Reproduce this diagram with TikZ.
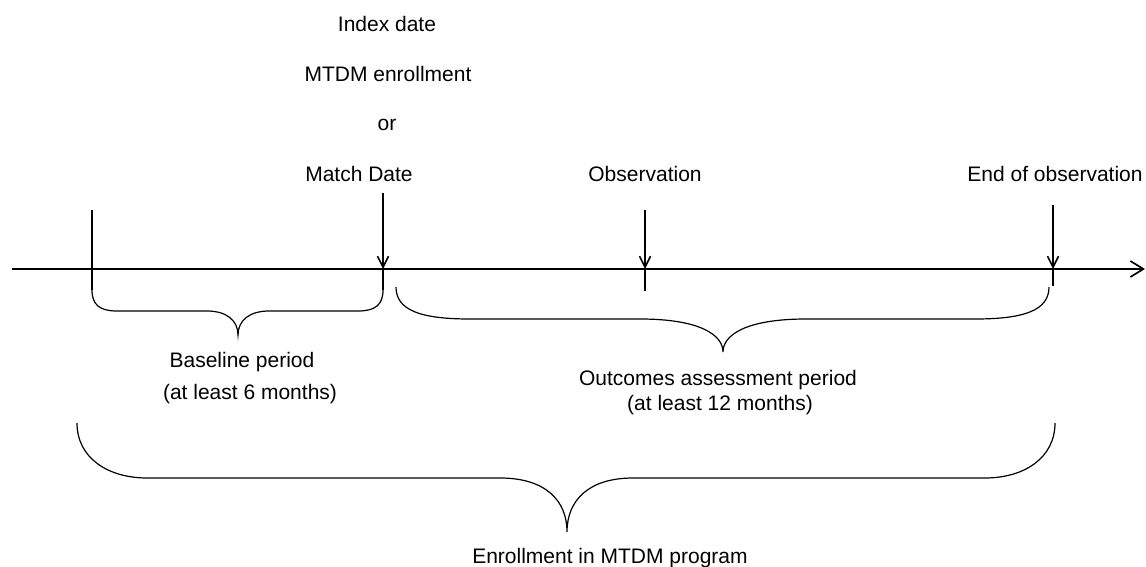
\documentclass[tikz,border=0pt]{standalone}
\usepackage{fontspec}
\setmainfont{Liberation Sans}
\usetikzlibrary{arrows.meta}
\begin{document}
\begin{tikzpicture}[x=1pt,y=-1pt,
  lbl/.style={anchor=base,inner sep=0pt,font=\fontsize{21}{25}\selectfont},
  axisline/.style={line width=1.7pt,-{Straight Barb[length=13pt,width=16pt,line width=1.7pt]}},
  marker/.style={line width=1.6pt,-{Straight Barb[length=11pt,width=11pt,line width=1.6pt]}},
  thickmarker/.style={line width=2.4pt,-{Straight Barb[length=11pt,width=11pt,line width=1.6pt]}},
  tick/.style={line width=1.3pt},
  brace/.style={line width=1.2pt}]
\useasboundingbox (0,0) rectangle (1146,567);

% labels
\node[lbl] (idx) at (387,32) {Index date};
\node[lbl] (enr) at (388,82) {MTDM enrollment};
\node[lbl] (or) at (387,131) {or};
\node[lbl] (match) at (359,182) {Match Date};
\node[lbl] (obs) at (645,182) {Observation};
\node[lbl] (end) at (1055,182) {End of observation};
\node[lbl] (base1) at (242,367) {Baseline period};
\node[lbl] (base2) at (250,399) {(at least 6 months)};
\node[lbl] (out1) at (718,385) {Outcomes assessment period};
\node[lbl] (out2) at (720,410) {(at least 12 months)};
\node[lbl] (prog) at (610,563) {Enrollment in MTDM program};

% coordinates
\coordinate (axL) at (12,269);
\coordinate (axR) at (1145,269);
\coordinate (s0) at (92,210);
\coordinate (s1) at (92,290);
\coordinate (m0) at (383,193);
\coordinate (m1) at (383,269);
\coordinate (m2) at (383,290);
\coordinate (o0) at (645,210);
\coordinate (o1) at (645,269);
\coordinate (o2) at (645,291);
\coordinate (e0) at (1053,205);
\coordinate (e1) at (1053,269);
\coordinate (e2) at (1053,286);

% axis
\draw[axisline] (axL) -- (axR);

% markers
\draw[tick] (s0) -- (s1);
\draw[marker] (m0) -- (m1);
\draw[tick] (m1) -- (m2);
\draw[thickmarker] (o0) -- (o1);
\draw[tick] (o1) -- (o2);
\draw[marker] (e0) -- (e1);
\draw[tick] (e1) -- (e2);

% baseline brace
\draw[brace] (s1) .. controls (92,305) and (100,311) .. (117,311) -- (207,311)
  .. controls (226,311) and (238,320) .. (238,335)
  .. controls (238,320) and (250,311) .. (269,311) -- (358,311)
  .. controls (375,311) and (383,305) .. (m2);

% outcomes brace
\draw[brace] (396,287) .. controls (396,310) and (420,319) .. (470,319) -- (640,319)
  .. controls (700,319) and (723,335) .. (723,352)
  .. controls (723,335) and (746,319) .. (806,319) -- (975,319)
  .. controls (1025,319) and (1049,310) .. (1049,287);

% enrollment brace
\draw[brace] (77,423) .. controls (77,458) and (108,478) .. (147,478) -- (500,478)
  .. controls (545,478) and (567,500) .. (567,532)
  .. controls (567,500) and (589,478) .. (633,478) -- (985,478)
  .. controls (1024,478) and (1055,458) .. (1055,423);
\end{tikzpicture}
\end{document}
